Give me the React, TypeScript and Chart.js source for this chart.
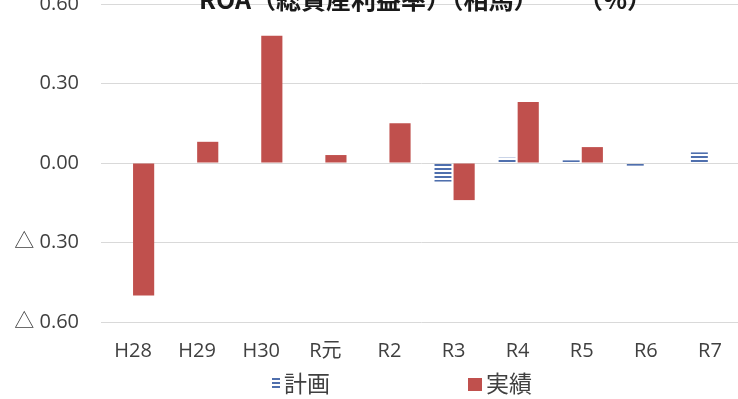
import React, { useEffect, useRef } from "react";
import { Chart, registerables } from "chart.js";

Chart.register(...registerables);

const titleMain = "ROA（総資産利益率）（相馬）";
const titleUnit = "（%）";
const categories = ["H28", "H29", "H30", "R元", "R2", "R3", "R4", "R5", "R6", "R7"];
const seriesNames = ["計画", "実績"];
const planValues: (number | null)[] = [null, null, null, null, null, -0.07, 0.02, 0.01, -0.01, 0.04];
const actualValues: (number | null)[] = [-0.5, 0.08, 0.48, 0.03, 0.15, -0.14, 0.23, 0.06, null, null];
const yTicks = [-0.6, -0.3, 0, 0.3, 0.6];

const PLAN_COLOR = "#4F6FAD";
const ACTUAL_COLOR = "#C0504D";
const TEXT_COLOR = "#404040";
const OFFSET = 12;

const fmtTick = (v: number) => (v < 0 ? "△ " + Math.abs(v).toFixed(2) : v.toFixed(2));

export default function App() {
  const ref = useRef<HTMLCanvasElement>(null);

  useEffect(() => {
    const canvas = ref.current!;
    const pc = document.createElement("canvas");
    pc.width = 4;
    pc.height = 4;
    const pctx = pc.getContext("2d")!;
    pctx.fillStyle = PLAN_COLOR;
    pctx.fillRect(0, 0, 4, 2);
    const pattern = canvas.getContext("2d")!.createPattern(pc, "repeat");

    const decor = {
      id: "decor",
      afterDraw(chart: any) {
        const ctx = chart.ctx;
        ctx.save();
        // title (mostly cut off at the top)
        ctx.fillStyle = "#1a1a1a";
        ctx.font = "bold 25px 'Noto Sans CJK JP'";
        ctx.textBaseline = "alphabetic";
        ctx.textAlign = "left";
        ctx.fillText(titleMain, 199, 21);
        ctx.fillText(titleUnit, 578, 21);
        // legend
        const ly = 395.5;
        ctx.fillStyle = PLAN_COLOR;
        for (let i = 0; i < 3; i++) ctx.fillRect(272, 390 + i * 4, 8, 2);
        ctx.fillStyle = ACTUAL_COLOR;
        ctx.fillRect(468, 390, 14, 13);
        ctx.fillStyle = TEXT_COLOR;
        ctx.font = "23px 'Noto Sans CJK JP'";
        ctx.textBaseline = "middle";
        ctx.fillText(seriesNames[0], 284, ly);
        ctx.fillText(seriesNames[1], 486, ly);
        ctx.restore();
      },
    };

    const chart = new Chart(canvas, {
      type: "bar",
      data: {
        labels: categories,
        datasets: [
          {
            label: seriesNames[0],
            data: planValues,
            backgroundColor: pattern as any,
            barPercentage: 0.8,
            categoryPercentage: 0.66,
          },
          {
            label: seriesNames[1],
            data: actualValues,
            backgroundColor: ACTUAL_COLOR,
            barPercentage: 1,
            categoryPercentage: 0.66,
          },
        ],
      },
      options: {
        responsive: false,
        animation: false,
        devicePixelRatio: 1,
        layout: { padding: { top: 16, bottom: 37, left: 0, right: 0 } },
        plugins: {
          legend: { display: false },
          title: { display: false },
          tooltip: { enabled: false },
        },
        scales: {
          x: {
            grid: { display: false, drawTicks: false },
            border: { display: false },
            ticks: {
              color: TEXT_COLOR,
              padding: 17,
              font: { family: "'Open Sans', 'Noto Sans CJK JP'", size: 20 },
            },
            afterFit: (s: any) => {
              s.height = 40;
            },
          },
          y: {
            min: -0.6,
            max: 0.6,
            grid: {
              color: "#D9D9D9",
              lineWidth: 1,
              drawTicks: true,
              tickLength: 22,
              tickColor: "rgba(0,0,0,0)",
            },
            border: { display: false },
            afterBuildTicks: (s: any) => {
              s.ticks = yTicks.map((v) => ({ value: v }));
            },
            ticks: {
              color: TEXT_COLOR,
              padding: 0,
              font: { family: "'Open Sans', 'Noto Sans CJK JP'", size: 20 },
              callback: (v: any) => fmtTick(Number(v)),
            },
            afterFit: (s: any) => {
              s.width = 101;
            },
          },
        },
      },
      plugins: [decor],
    });
    return () => chart.destroy();
  }, []);

  return (
    <div
      style={{
        position: "fixed",
        left: 0,
        top: 0,
        width: 738,
        height: 399,
        overflow: "hidden",
        background: "#fff",
      }}
    >
      <canvas
        ref={ref}
        width={742}
        height={399 + OFFSET}
        style={{ position: "absolute", left: 0, top: -OFFSET, width: 742, height: 399 + OFFSET }}
      />
    </div>
  );
}
